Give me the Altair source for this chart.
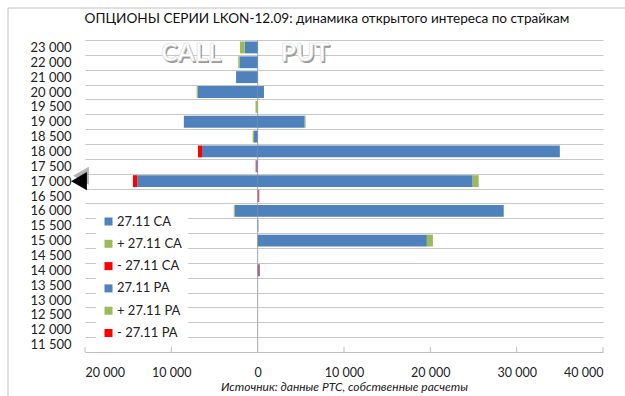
import altair as alt
import pandas as pd

strikes = ["23 000", "22 000", "21 000", "20 000", "19 500", "19 000", "18 500",
           "18 000", "17 500", "17 000", "16 500", "16 000", "15 500", "15 000",
           "14 500", "14 000", "13 500", "13 000", "12 500", "12 000", "11 500"]
call_oi    = [1500, 2100, 2500, 6950, 0, 8550, 430, 6450, 150, 13950, 0, 2670, 0, 0, 0, 0, 0, 0, 0, 0, 0]
call_plus  = [550, 150, 0, 120, 250, 0, 150, 0, 0, 0, 0, 100, 0, 0, 0, 0, 0, 0, 0, 0, 0]
call_minus = [0, 0, 0, 0, 0, 0, 0, 460, 80, 500, 0, 0, 0, 0, 0, 0, 0, 0, 0, 0, 0]
put_oi     = [0, 0, 0, 730, 0, 5450, 0, 35000, 0, 24900, 100, 28500, 80, 19600, 0, 150, 0, 0, 0, 0, 0]
put_plus   = [0, 0, 0, 0, 0, 100, 0, 0, 0, 700, 0, 0, 0, 700, 0, 0, 0, 0, 0, 0, 0]
put_minus  = [0, 0, 0, 0, 0, 0, 0, 0, 0, 0, 80, 0, 0, 0, 0, 80, 0, 0, 0, 0, 0]

series = ["27.11 CA", "+ 27.11 CA", "- 27.11 CA", "27.11 PA", "+ 27.11 PA", "- 27.11 PA"]
colors = ["#4F81BD", "#9BBB59", "#FF0000", "#4F81BD", "#9BBB59", "#FF0000"]
x_ticks = [-20000, -10000, 0, 10000, 20000, 30000, 40000]

title_text = "ОПЦИОНЫ СЕРИИ LKON-12.09: динамика открытого интереса по страйкам"
source_text = "Источник: данные РТС, собственные расчеты"

rows = []
all_vals = [call_oi, call_plus, call_minus, put_oi, put_plus, put_minus]
for si, (name, vals) in enumerate(zip(series, all_vals)):
    sign = -1 if si < 3 else 1
    for s, v in zip(strikes, vals):
        if v:
            rows.append({"strike": s, "series": name, "idx": si, "value": sign * v})
df = pd.DataFrame(rows)

FONT = "Lato"
W, H = 518, 312

xscale = alt.Scale(domain=[-20000, 40000], nice=False, zero=False)
yscale = alt.Scale(domain=strikes, paddingInner=0, paddingOuter=0)

xaxis = alt.Axis(values=x_ticks,
                 labelExpr="replace(format(abs(datum.value), ',d'), ',', ' ')",
                 ticks=False, grid=False, domainColor="#BFBFBF",
                 labelFont=FONT, labelFontSize=12.5, labelColor="#222222",
                 labelPadding=14, title=source_text, titleFont=FONT,
                 titleFontSize=12, titleFontStyle="italic", titleFontWeight="normal",
                 titleColor="#222222", titlePadding=3)
yaxis = alt.Axis(title=None, ticks=False, domain=False, grid=True,
                 gridColor="#C8C8C8", tickBand="extent",
                 labelFont=FONT, labelFontSize=13, labelColor="#222222",
                 labelPadding=14)

zero = alt.Chart(pd.DataFrame({"value": [0]})).mark_rule(color="#A6A6A6", strokeWidth=1).encode(
    x=alt.X("value:Q", scale=xscale, axis=xaxis)
)

bars = alt.Chart(df).mark_bar(height=alt.RelativeBandSize(0.8)).encode(
    x=alt.X("value:Q", scale=xscale, stack="zero", axis=xaxis),
    y=alt.Y("strike:N", scale=yscale, sort=strikes, axis=yaxis),
    color=alt.Color("series:N", title=None,
                    scale=alt.Scale(domain=series, range=colors),
                    legend=alt.Legend(orient="none", legendX=11, legendY=169,
                                      fillColor="white", padding=6, rowPadding=8.3,
                                      symbolType="square", symbolSize=64,
                                      symbolStrokeWidth=0, labelFont=FONT,
                                      labelFontSize=13, labelColor="#222222",
                                      labelOffset=2, direction="vertical")),
    order=alt.Order("idx:Q"),
)

tick_df = pd.DataFrame({"value": x_ticks})
ticks = alt.Chart(tick_df).mark_rule(color="#BFBFBF").encode(
    x=alt.X("value:Q", scale=xscale, axis=xaxis),
    y=alt.value(H - 5), y2=alt.value(H),
)

wm_df = pd.DataFrame({"label": ["CALL", "PUT"], "px": [106, 220]})
wm_shadow = alt.Chart(wm_df).mark_text(font=FONT, fontSize=25, fontWeight="bold",
                                       color="#9A9A9A", dx=1.5, dy=1.5).encode(
    text="label:N", x=alt.X("px:Q", scale=None), y=alt.value(13)
)
wm_text = alt.Chart(wm_df).mark_text(font=FONT, fontSize=25, fontWeight="bold",
                                     color="white", stroke="#D8D8D8", strokeWidth=0.6).encode(
    text="label:N", x=alt.X("px:Q", scale=None), y=alt.value(13)
)

title_df = pd.DataFrame({"t": [title_text]})
title = alt.Chart(title_df).mark_text(font=FONT, fontSize=13.6, color="#111111",
                                      baseline="middle", align="center").encode(
    text="t:N", x=alt.value(242), y=alt.value(-21)
)

arrow_df = pd.DataFrame({"strike": ["17 000"]})
arrow_shadow = alt.Chart(arrow_df).mark_point(shape="triangle-left", filled=True,
                                              color="#A0A0A0", size=330, opacity=0.8).encode(
    y=alt.Y("strike:N", scale=yscale, sort=strikes, axis=yaxis), x=alt.value(-4), yOffset=alt.value(2)
)
arrow = alt.Chart(arrow_df).mark_point(shape="triangle-left", filled=True,
                                       color="black", size=330, opacity=1).encode(
    y=alt.Y("strike:N", scale=yscale, sort=strikes, axis=yaxis), x=alt.value(-6)
)

frame_left = alt.Chart(pd.DataFrame({"a": [0]})).mark_rule(color="#BFBFBF").encode(
    x=alt.value(-77), y=alt.value(-32), y2=alt.value(H + 60)
)
frame_top = alt.Chart(pd.DataFrame({"a": [0]})).mark_rule(color="#BFBFBF").encode(
    x=alt.value(-77), x2=alt.value(W + 30), y=alt.value(-32)
)

chart = alt.layer(
    zero, bars, ticks, wm_shadow, wm_text, title, arrow_shadow, arrow, frame_left, frame_top
).properties(
    width=W, height=H,
    autosize=alt.AutoSizeParams(type="none"),
    padding={"left": 85, "top": 40, "right": 22, "bottom": 44},
).configure(background="white").configure_view(stroke=None)

chart.save("out.html", embed_options={"renderer": "svg", "actions": False})
